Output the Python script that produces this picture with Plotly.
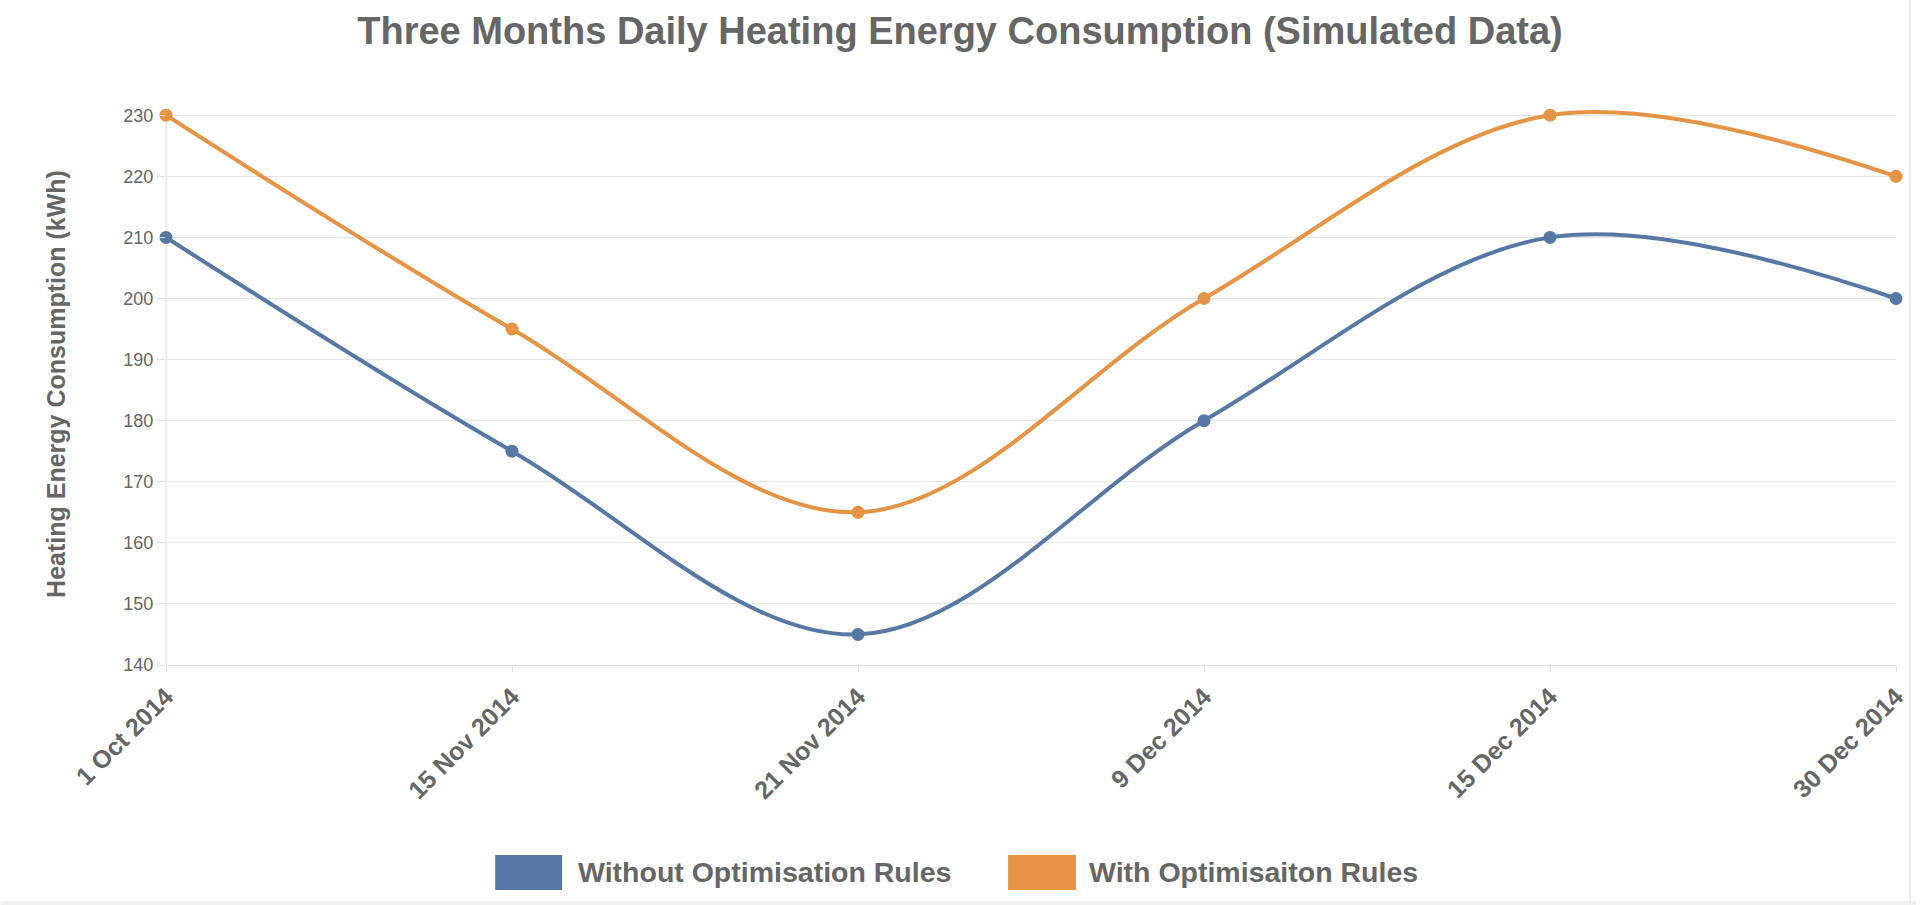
import plotly.graph_objects as go

dates = ["1 Oct 2014", "15 Nov 2014", "21 Nov 2014", "9 Dec 2014", "15 Dec 2014", "30 Dec 2014"]
without_rules = [210, 175, 145, 180, 210, 200]
with_rules = [230, 195, 165, 200, 230, 220]
series_names = ["Without Optimisation Rules", "With Optimisaiton Rules"]
series_colors = ["#5778a4", "#e49444"]
y_min, y_max, y_top = 140, 230, 232

W, H = 1920, 905
L, R, T, B = 166, 20, 103, 240
PW, PH = W - L - R, H - T - B

def px(x):
    return (x - L) / PW

def py(y):
    return (H - B - y) / PH

fig = go.Figure()
for vals, name, col in zip([without_rules, with_rules], series_names, series_colors):
    fig.add_trace(go.Scatter(
        x=dates, y=vals, name=name, mode="lines+markers",
        line=dict(color=col, width=4, shape="spline", smoothing=1),
        marker=dict(color=col, size=13),
        cliponaxis=False, showlegend=False,
    ))

txt = "#666666"
font = "Liberation Sans, Arial, sans-serif"

# manual legend
leg = [(496, 563, 577), (1010, 1078, 1089)]
shapes = []
annotations = []
for (x0, x1, tx), name, col in zip(leg, series_names, series_colors):
    shapes.append(dict(type="rect", xref="paper", yref="paper",
                       x0=px(x0), x1=px(x1), y0=py(890), y1=py(855),
                       fillcolor=col, line=dict(width=0)))
    annotations.append(dict(xref="paper", yref="paper", x=px(tx), y=py(872),
                            xanchor="left", yanchor="middle", showarrow=False,
                            text="<b>%s</b>" % name,
                            font=dict(size=28.5, color=txt, family=font)))

# left axis line, from min to max tick
shapes.append(dict(type="line", xref="paper", yref="y", layer="below",
                   x0=0, x1=0, y0=y_min, y1=y_max,
                   line=dict(color="#e0e0e0", width=1)))
# page border hints
shapes.append(dict(type="line", xref="paper", yref="paper",
                   x0=px(1914), x1=px(1914), y0=py(0), y1=py(905),
                   line=dict(color="#e8e8e8", width=2)))
shapes.append(dict(type="rect", xref="paper", yref="paper",
                   x0=px(0), x1=px(1920), y0=py(905), y1=py(901),
                   fillcolor="#f0f0f0", line=dict(width=0)))

fig.update_layout(
    width=W, height=H,
    margin=dict(l=L, r=R, t=T, b=B),
    paper_bgcolor="white", plot_bgcolor="white",
    title=dict(text="<b>Three Months Daily Heating Energy Consumption (Simulated Data)</b>",
               x=0.5, xref="container", xanchor="center", y=1 - 31 / H, yanchor="middle",
               font=dict(size=38, color=txt, family=font)),
    shapes=shapes, annotations=annotations,
    showlegend=False,
)
fig.update_xaxes(
    type="category", range=[0, len(dates) - 1],
    showgrid=False, showline=True, linecolor="#e0e0e0", linewidth=1,
    ticks="outside", ticklen=6, tickcolor="#e0e0e0",
    tickangle=-45,
    tickfont=dict(size=25, color=txt, family=font),
    tickprefix="<b>", ticksuffix="</b>",
)
fig.update_yaxes(
    range=[y_min, y_top], dtick=10, tick0=y_min,
    showgrid=True, gridcolor="#e6e6e6", gridwidth=1,
    showline=False,
    ticks="outside", ticklen=8, tickcolor="#e0e0e0",
    zeroline=False,
    tickfont=dict(size=18, color=txt, family=font),
    title=dict(text="<b>Heating Energy Consumption (kWh)</b>", standoff=50,
               font=dict(size=25, color=txt, family=font)),
)

fig.write_html("out.html")
